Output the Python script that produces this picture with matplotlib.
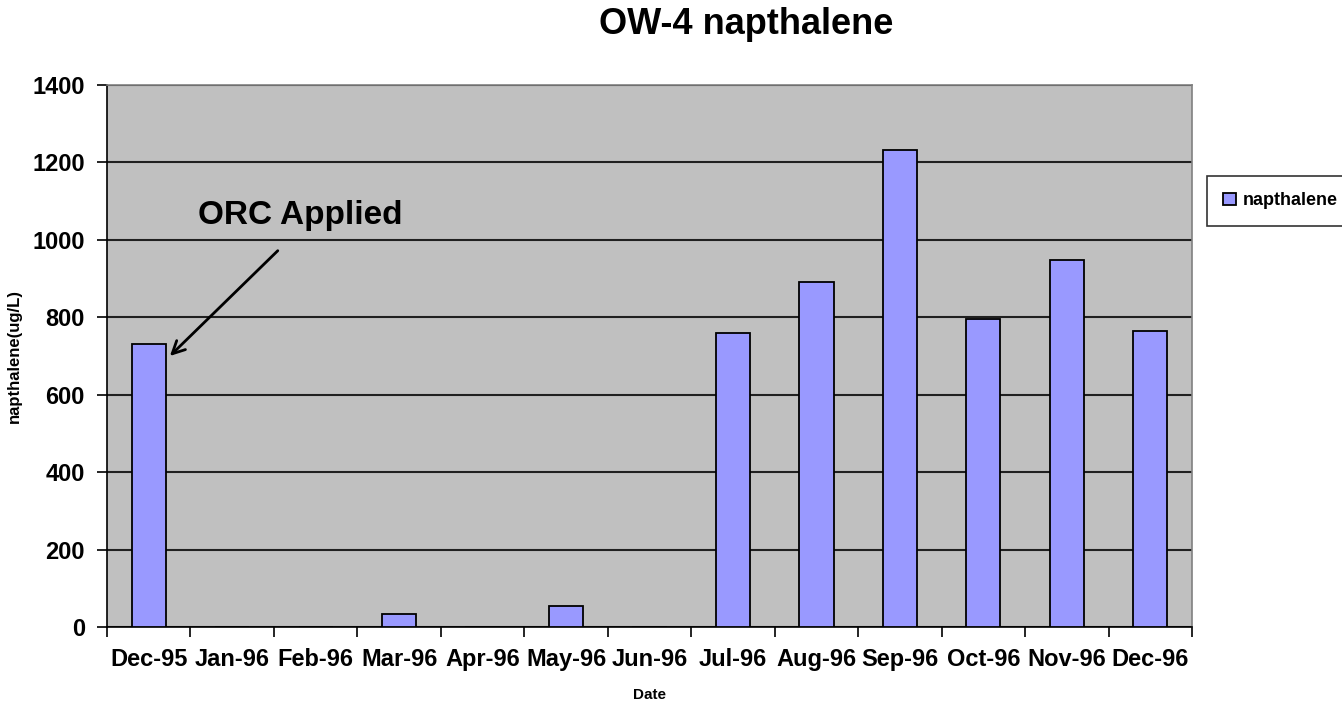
import numpy as np
import matplotlib
matplotlib.use("Agg")
import matplotlib.pyplot as plt

plt.rcParams['font.family'] = ['Liberation Sans', 'DejaVu Sans']
plt.rcParams['font.weight'] = 'bold'

# data
months = ['Dec-95', 'Jan-96', 'Feb-96', 'Mar-96', 'Apr-96', 'May-96', 'Jun-96',
          'Jul-96', 'Aug-96', 'Sep-96', 'Oct-96', 'Nov-96', 'Dec-96']
napthalene = [731, 0, 0, 33, 0, 53, 0, 760, 892, 1231, 796, 948, 765]
y_ticks = [0, 200, 400, 600, 800, 1000, 1200, 1400]

fig = plt.figure(figsize=(13.42, 7.07), dpi=100)
ax = fig.add_axes([107/1342, 1 - 627/707, (1192-107)/1342, (627-85)/707])
ax.set_facecolor('#C0C0C0')

x = np.arange(len(months))
ax.bar(x, napthalene, width=0.41, color='#9999FF', edgecolor='black',
       linewidth=1.3, zorder=3, label='napthalene')

ax.set_xlim(-0.5, len(months) - 0.5)
ax.set_ylim(0, 1400)
ax.set_yticks(y_ticks)
ax.set_yticklabels([str(v) for v in y_ticks], fontsize=17, fontweight='bold')
ax.yaxis.grid(True, color='#202020', linewidth=1.5, zorder=1)
ax.tick_params(axis='y', length=7, width=1.2, pad=9)

# ticks at category boundaries, labels at centres
ax.set_xticks(np.arange(len(months) + 1) - 0.5)
ax.set_xticklabels([])
ax.set_xticks(x, minor=True)
ax.set_xticklabels(months, minor=True, fontsize=17, fontweight='bold')
ax.tick_params(axis='x', which='major', length=7, width=1.2)
ax.tick_params(axis='x', which='minor', length=0, pad=15)

for side in ['top', 'right']:
    ax.spines[side].set_color('#808080')
    ax.spines[side].set_linewidth(1.2)
for side in ['left', 'bottom']:
    ax.spines[side].set_color('black')
    ax.spines[side].set_linewidth(1.2)

ax.set_ylabel('napthalene(ug/L)', fontsize=12, fontweight='bold')
ax.yaxis.set_label_coords(-(107 - 22) / 1085, 0.5)
ax.set_xlabel('Date', fontsize=11, fontweight='bold')
ax.xaxis.set_label_coords(0.5, -(688 - 627) / 542)

fig.text(746/1342, 1 - 25/707, 'OW-4 napthalene', fontsize=26, fontweight='bold',
         ha='center', va='center')

# annotation
ax.annotate('', xy=(0.23, napthalene[0] - 36), xytext=(1.57, 977),
            arrowprops=dict(arrowstyle='->,head_length=0.9,head_width=0.45',
                            color='black', lw=2), zorder=5)
ax.text(1.81, 1062, 'ORC Applied', fontsize=24, fontweight='bold',
        ha='center', va='center', zorder=5)

# legend
leg = fig.legend(loc='center left', bbox_to_anchor=(1207/1342, 1 - 201/707),
                 fontsize=13, frameon=True, fancybox=False, edgecolor='black',
                 handlelength=0.7, handleheight=0.7, handletextpad=0.4,
                 borderpad=0.9, borderaxespad=0)
leg.get_frame().set_linewidth(1.2)

fig.savefig('out.png', dpi=100)
